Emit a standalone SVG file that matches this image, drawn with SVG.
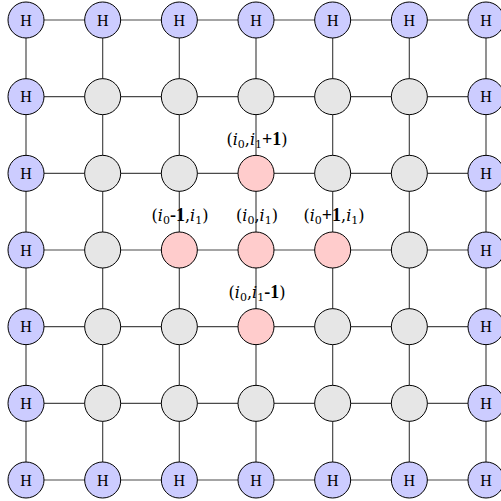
<svg xmlns="http://www.w3.org/2000/svg" width="501" height="501" viewBox="0 0 501 501">
<style>
.e{stroke:#4a4a4a;stroke-width:1.2;fill:none}
.n circle{stroke:#000;stroke-width:1}
.h circle{fill:#ccccff}
.g circle{fill:#e6e6e6}
.p circle{fill:#ffcccc}
.h text{font-family:"Liberation Serif","DejaVu Serif",serif;font-size:16px;text-anchor:middle;fill:#000}
.lb{font-family:"DejaVu Serif","Liberation Serif",serif;font-size:16px;text-anchor:middle;fill:#000}
.lb .i{font-style:italic}
.lb .s{font-size:11px}
.lb .b{font-family:"Liberation Serif",serif;font-weight:bold;font-size:18px}
</style>
<rect width="501" height="501" fill="#fff"/>
<g id="connectors">
<path class="e" d="M26 20H486M26 96.67H486M26 173.33H486M26 250H486M26 326.67H486M26 403.33H486M26 480H486"/>
<path class="e" d="M26 20V480M102.67 20V480M179.33 20V480M256 20V480M332.67 20V480M409.33 20V480M486 20V480"/>
</g>
<g id="labels">
<text class="lb" x="257" y="145">(<tspan class="i">i</tspan><tspan class="s" dy="3">0</tspan><tspan dy="-3">,</tspan><tspan class="i">i</tspan><tspan class="s" dy="3">1</tspan><tspan class="b" dy="-3">+1</tspan>)</text>
<text class="lb" x="180" y="221">(<tspan class="i">i</tspan><tspan class="s" dy="3">0</tspan><tspan class="b" dy="-3">-1</tspan>,<tspan class="i">i</tspan><tspan class="s" dy="3">1</tspan><tspan dy="-3">)</tspan></text>
<text class="lb" x="257" y="221">(<tspan class="i">i</tspan><tspan class="s" dy="3">0</tspan><tspan dy="-3">,</tspan><tspan class="i">i</tspan><tspan class="s" dy="3">1</tspan><tspan dy="-3">)</tspan></text>
<text class="lb" x="334" y="221">(<tspan class="i">i</tspan><tspan class="s" dy="3">0</tspan><tspan class="b" dy="-3">+1</tspan>,<tspan class="i">i</tspan><tspan class="s" dy="3">1</tspan><tspan dy="-3">)</tspan></text>
<text class="lb" x="257" y="298">(<tspan class="i">i</tspan><tspan class="s" dy="3">0</tspan><tspan dy="-3">,</tspan><tspan class="i">i</tspan><tspan class="s" dy="3">1</tspan><tspan class="b" dy="-3">-1</tspan>)</text>
</g>
<g id="n0_0" class="n h"><circle cx="26" cy="20" r="18"/><text x="26" y="25.5">H</text></g>
<g id="n0_1" class="n h"><circle cx="102.67" cy="20" r="18"/><text x="102.67" y="25.5">H</text></g>
<g id="n0_2" class="n h"><circle cx="179.33" cy="20" r="18"/><text x="179.33" y="25.5">H</text></g>
<g id="n0_3" class="n h"><circle cx="256" cy="20" r="18"/><text x="256" y="25.5">H</text></g>
<g id="n0_4" class="n h"><circle cx="332.67" cy="20" r="18"/><text x="332.67" y="25.5">H</text></g>
<g id="n0_5" class="n h"><circle cx="409.33" cy="20" r="18"/><text x="409.33" y="25.5">H</text></g>
<g id="n0_6" class="n h"><circle cx="486" cy="20" r="18"/><text x="486" y="25.5">H</text></g>
<g id="n1_0" class="n h"><circle cx="26" cy="96.67" r="18"/><text x="26" y="102.17">H</text></g>
<g id="n1_1" class="n g"><circle cx="102.67" cy="96.67" r="18"/></g>
<g id="n1_2" class="n g"><circle cx="179.33" cy="96.67" r="18"/></g>
<g id="n1_3" class="n g"><circle cx="256" cy="96.67" r="18"/></g>
<g id="n1_4" class="n g"><circle cx="332.67" cy="96.67" r="18"/></g>
<g id="n1_5" class="n g"><circle cx="409.33" cy="96.67" r="18"/></g>
<g id="n1_6" class="n h"><circle cx="486" cy="96.67" r="18"/><text x="486" y="102.17">H</text></g>
<g id="n2_0" class="n h"><circle cx="26" cy="173.33" r="18"/><text x="26" y="178.83">H</text></g>
<g id="n2_1" class="n g"><circle cx="102.67" cy="173.33" r="18"/></g>
<g id="n2_2" class="n g"><circle cx="179.33" cy="173.33" r="18"/></g>
<g id="n2_3" class="n p"><circle cx="256" cy="173.33" r="18"/></g>
<g id="n2_4" class="n g"><circle cx="332.67" cy="173.33" r="18"/></g>
<g id="n2_5" class="n g"><circle cx="409.33" cy="173.33" r="18"/></g>
<g id="n2_6" class="n h"><circle cx="486" cy="173.33" r="18"/><text x="486" y="178.83">H</text></g>
<g id="n3_0" class="n h"><circle cx="26" cy="250" r="18"/><text x="26" y="255.5">H</text></g>
<g id="n3_1" class="n g"><circle cx="102.67" cy="250" r="18"/></g>
<g id="n3_2" class="n p"><circle cx="179.33" cy="250" r="18"/></g>
<g id="n3_3" class="n p"><circle cx="256" cy="250" r="18"/></g>
<g id="n3_4" class="n p"><circle cx="332.67" cy="250" r="18"/></g>
<g id="n3_5" class="n g"><circle cx="409.33" cy="250" r="18"/></g>
<g id="n3_6" class="n h"><circle cx="486" cy="250" r="18"/><text x="486" y="255.5">H</text></g>
<g id="n4_0" class="n h"><circle cx="26" cy="326.67" r="18"/><text x="26" y="332.17">H</text></g>
<g id="n4_1" class="n g"><circle cx="102.67" cy="326.67" r="18"/></g>
<g id="n4_2" class="n g"><circle cx="179.33" cy="326.67" r="18"/></g>
<g id="n4_3" class="n p"><circle cx="256" cy="326.67" r="18"/></g>
<g id="n4_4" class="n g"><circle cx="332.67" cy="326.67" r="18"/></g>
<g id="n4_5" class="n g"><circle cx="409.33" cy="326.67" r="18"/></g>
<g id="n4_6" class="n h"><circle cx="486" cy="326.67" r="18"/><text x="486" y="332.17">H</text></g>
<g id="n5_0" class="n h"><circle cx="26" cy="403.33" r="18"/><text x="26" y="408.83">H</text></g>
<g id="n5_1" class="n g"><circle cx="102.67" cy="403.33" r="18"/></g>
<g id="n5_2" class="n g"><circle cx="179.33" cy="403.33" r="18"/></g>
<g id="n5_3" class="n g"><circle cx="256" cy="403.33" r="18"/></g>
<g id="n5_4" class="n g"><circle cx="332.67" cy="403.33" r="18"/></g>
<g id="n5_5" class="n g"><circle cx="409.33" cy="403.33" r="18"/></g>
<g id="n5_6" class="n h"><circle cx="486" cy="403.33" r="18"/><text x="486" y="408.83">H</text></g>
<g id="n6_0" class="n h"><circle cx="26" cy="480" r="18"/><text x="26" y="485.5">H</text></g>
<g id="n6_1" class="n h"><circle cx="102.67" cy="480" r="18"/><text x="102.67" y="485.5">H</text></g>
<g id="n6_2" class="n h"><circle cx="179.33" cy="480" r="18"/><text x="179.33" y="485.5">H</text></g>
<g id="n6_3" class="n h"><circle cx="256" cy="480" r="18"/><text x="256" y="485.5">H</text></g>
<g id="n6_4" class="n h"><circle cx="332.67" cy="480" r="18"/><text x="332.67" y="485.5">H</text></g>
<g id="n6_5" class="n h"><circle cx="409.33" cy="480" r="18"/><text x="409.33" y="485.5">H</text></g>
<g id="n6_6" class="n h"><circle cx="486" cy="480" r="18"/><text x="486" y="485.5">H</text></g>
</svg>
